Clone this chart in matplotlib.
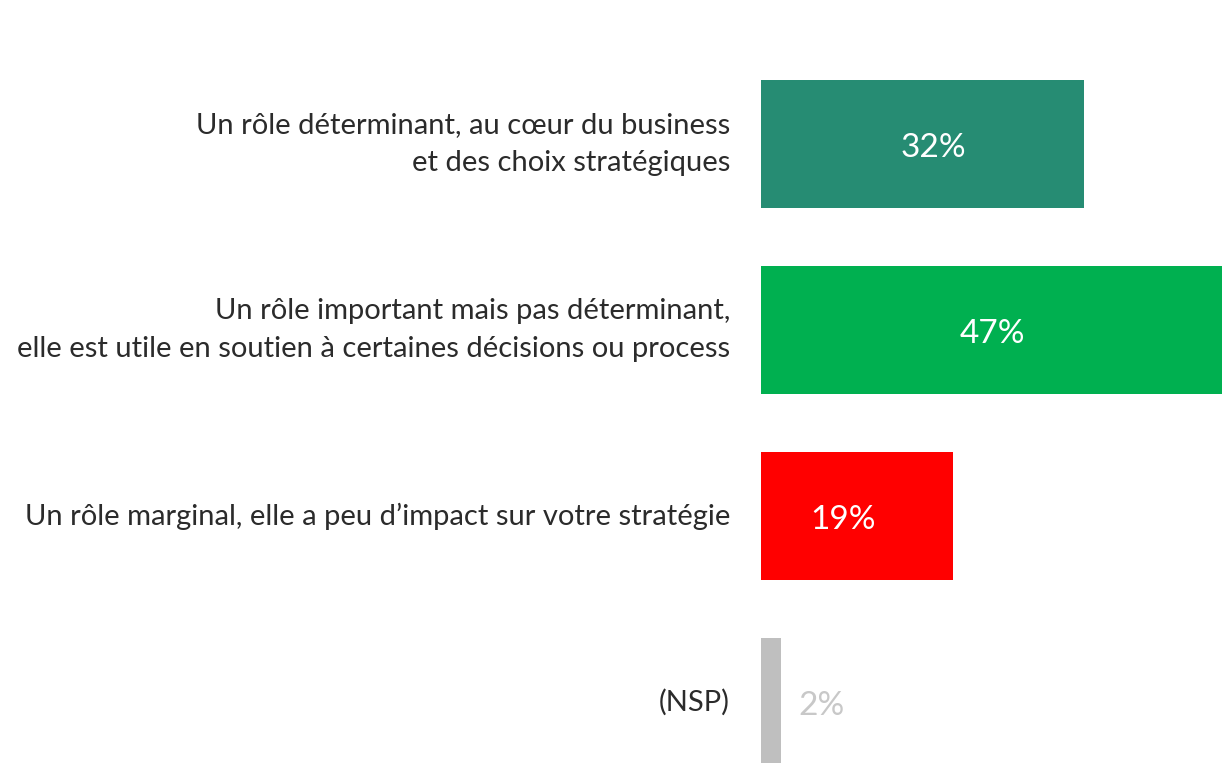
import matplotlib
matplotlib.use("Agg")
import matplotlib.pyplot as plt

categories = [
    "Un rôle déterminant, au cœur du business\net des choix stratégiques",
    "Un rôle important mais pas déterminant,\nelle est utile en soutien à certaines décisions ou process",
    "Un rôle marginal, elle a peu d’impact sur votre stratégie",
    "(NSP)",
]
values = [32, 47, 19, 2]
value_labels = ["32%", "47%", "19%", "2%"]
colors = ["#268C73", "#00B050", "#FF0000", "#BFBFBF"]

# layout tweaks for value-label placement (data units, relative to bar middle)
label_dx = [1.1, -0.6, -1.4, 0]

W, H = 1222, 763
fig = plt.figure(figsize=(W / 100, H / 100), dpi=100)
fig.patch.set_facecolor("white")

x0 = 761
ppu = 10.1
ax = fig.add_axes([x0 / W, 0, (W - x0) / W, 1])
ax.set_xlim(0, (W - x0) / ppu)
pitch = 186
c0 = 144
ax.set_ylim(3 + (H - (c0 + 3 * pitch)) / pitch, -c0 / pitch)
ax.axis("off")

ys = list(range(len(values)))
ax.barh(ys, values, height=128 / pitch, color=colors, clip_on=True)

fam = ["Lato", "DejaVu Sans"]
for y, v, lab, cat, dx in zip(ys, values, value_labels, categories, label_dx):
    ylab = y + 4 / pitch
    if v >= 10:
        ax.text(v / 2 + dx, ylab, lab, ha="center", va="center", color="white",
                fontsize=24, family=fam)
    else:
        ax.text(v + 4.0, ylab, lab, ha="center", va="center", color="#C8C8C8",
                fontsize=24, family=fam)
    fig.text(730 / W, 1 - (c0 + y * pitch) / H, cat, ha="right", va="center",
             color="#2B2B2B", fontsize=21, family=fam,
             linespacing=1.58, multialignment="right")

fig.savefig("out.png", dpi=100, facecolor="white")
